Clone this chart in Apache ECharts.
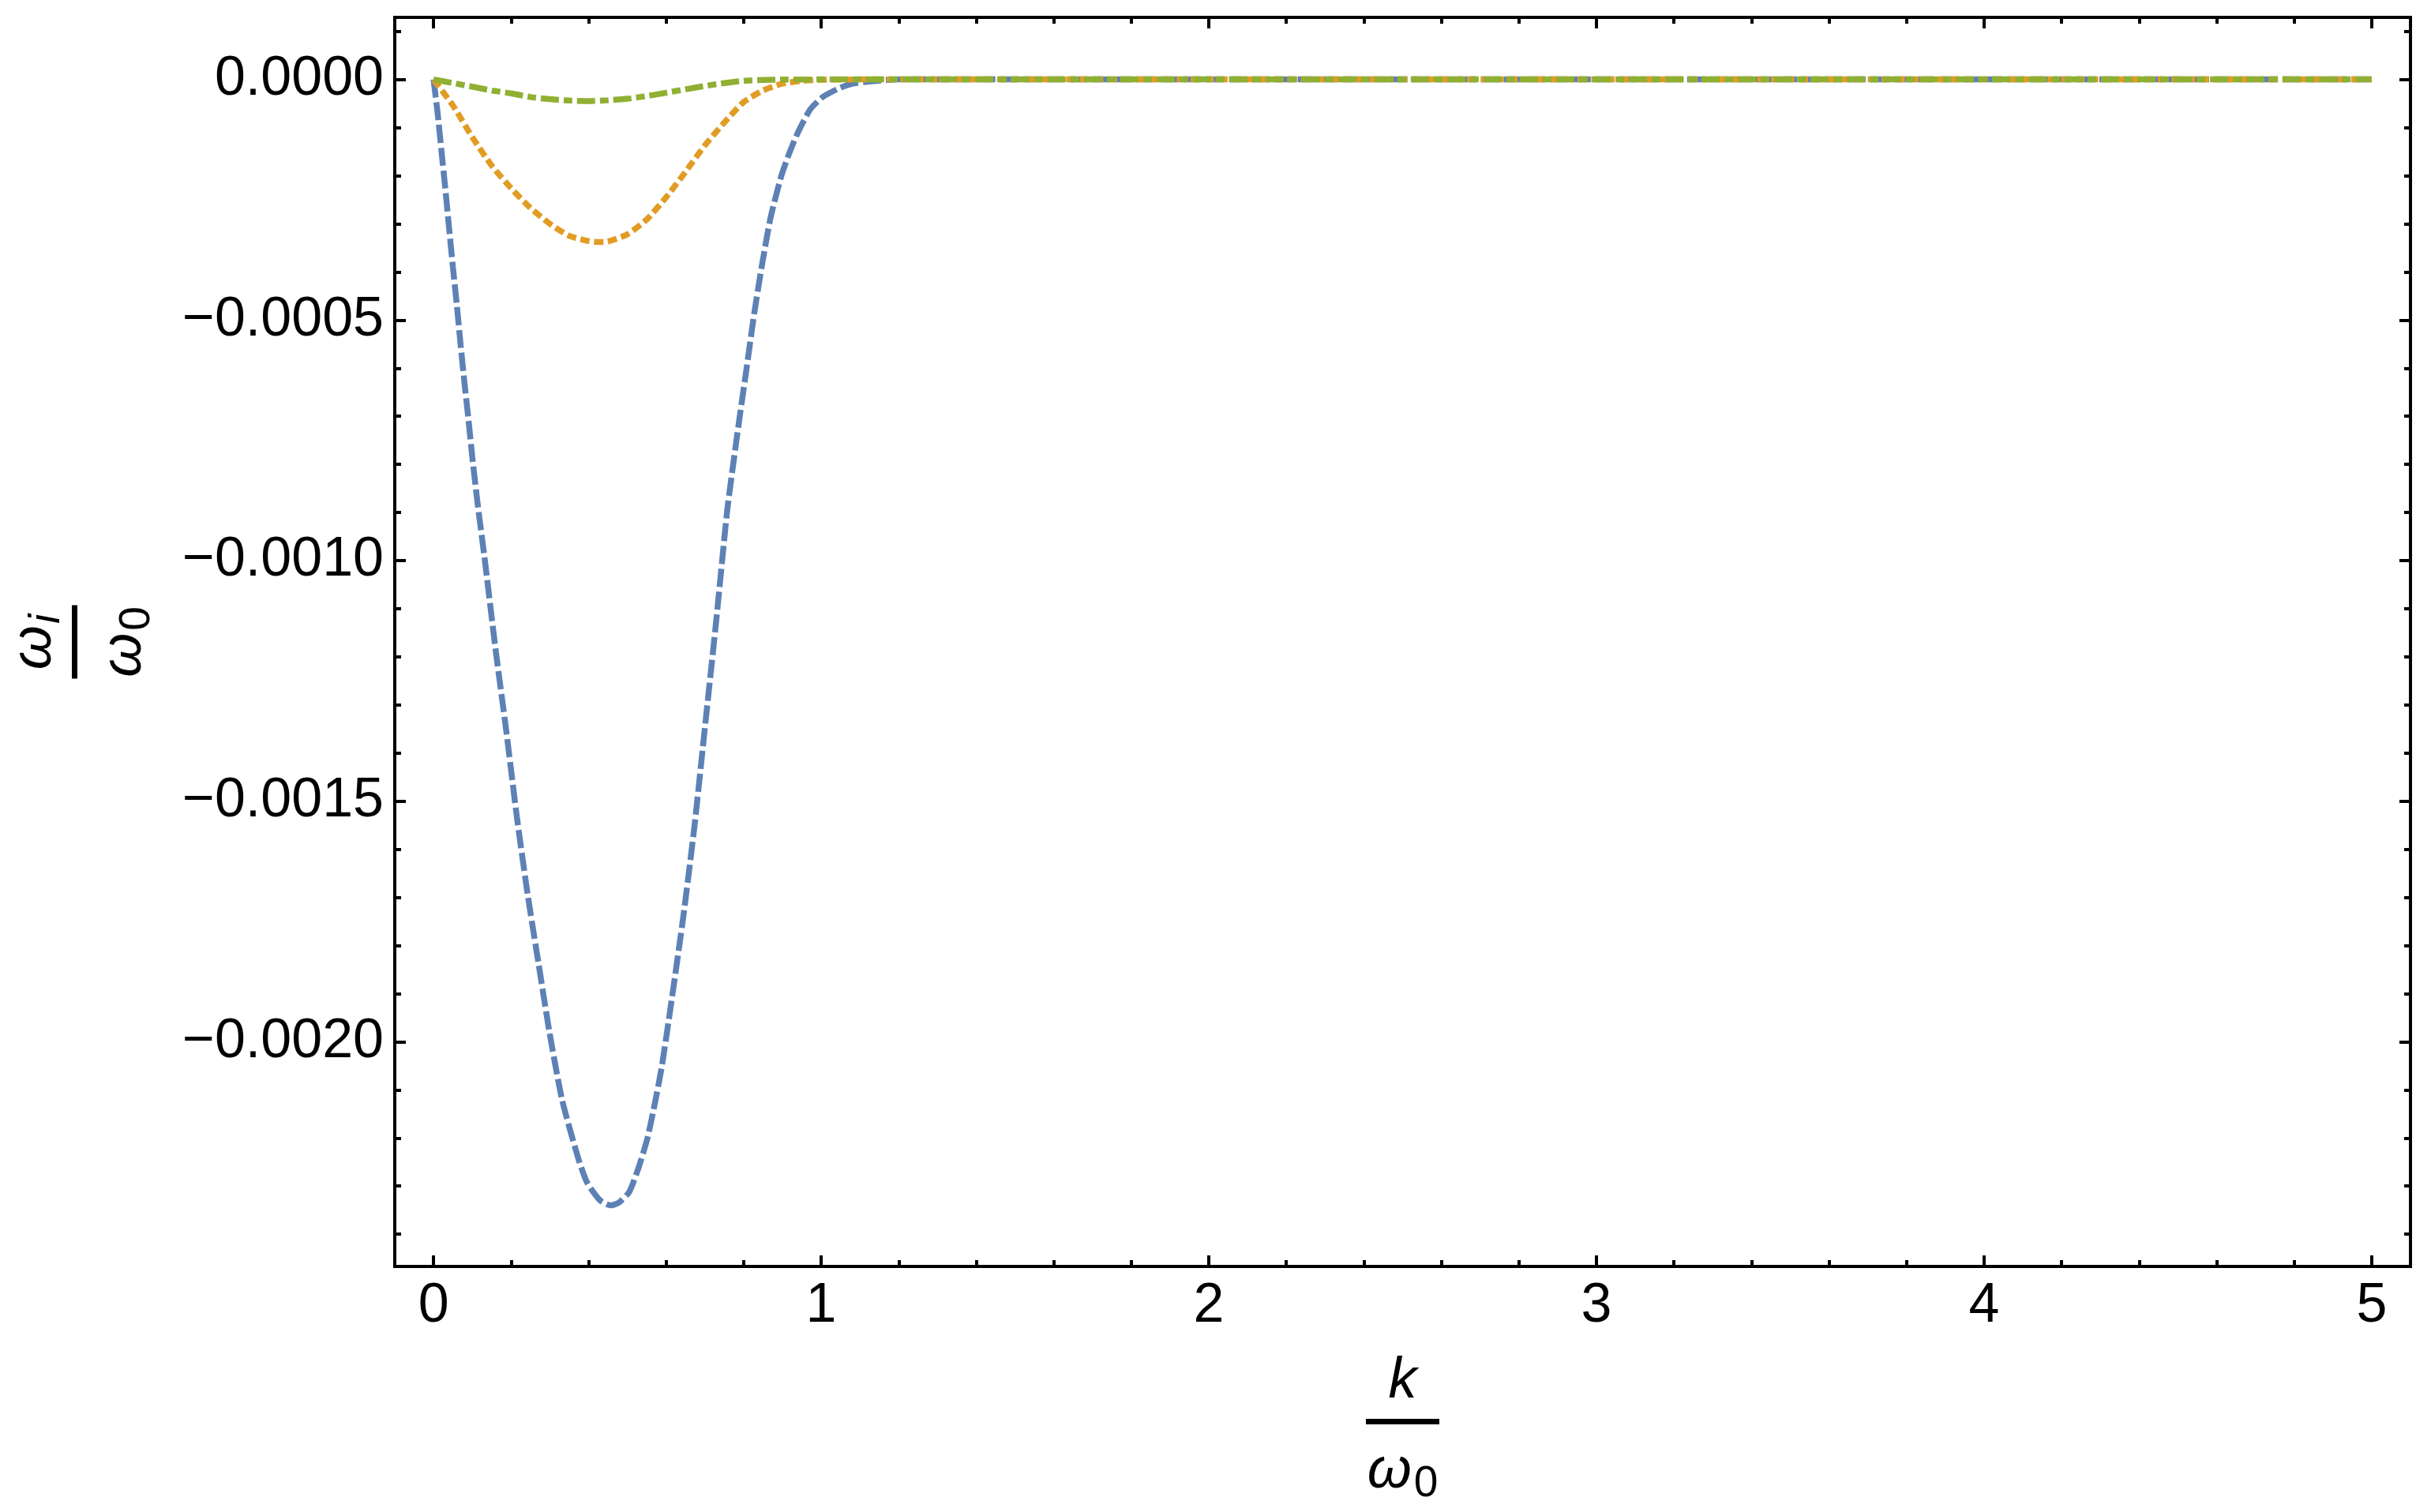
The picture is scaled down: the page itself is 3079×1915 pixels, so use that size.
<!DOCTYPE html>
<html>
<head>
<meta charset="utf-8">
<script src="https://cdn.jsdelivr.net/npm/echarts@6/dist/echarts.min.js"></script>
<style>
  html, body { margin: 0; padding: 0; background: #fff; }
  #main { width: 3079px; height: 1915px; }
</style>
</head>
<body>
<div id="main"></div>
<script>
// blue, dashed
var kBlue = [0, 0.01, 0.02, 0.03, 0.04, 0.05, 0.06, 0.07, 0.08, 0.09, 0.10, 0.115, 0.131, 0.159, 0.187,
  0.215, 0.243, 0.271, 0.299, 0.332, 0.374, 0.397, 0.43, 0.456, 0.477, 0.505, 0.528, 0.551, 0.570,
  0.589, 0.617, 0.645, 0.673, 0.701, 0.729, 0.757, 0.771, 0.790, 0.808, 0.827, 0.846, 0.869, 0.897,
  0.916, 0.939, 0.972, 1.005, 1.047, 1.08, 1.128, 1.2, 5];
var wBlue = [0, -0.000066, -0.000145, -0.000224, -0.000308, -0.000390, -0.000468, -0.000553, -0.000632,
  -0.000706, -0.000785, -0.000890, -0.000990, -0.001178, -0.001350, -0.001533, -0.001695, -0.001838,
  -0.001980, -0.002122, -0.002244, -0.002294, -0.002330, -0.002340, -0.002335, -0.002312, -0.002264,
  -0.002203, -0.002132, -0.002051, -0.001898, -0.001736, -0.001553, -0.001340, -0.001127, -0.000900,
  -0.000812, -0.000700, -0.000598, -0.000488, -0.000392, -0.000289, -0.000201, -0.000157, -0.000112,
  -0.000062, -0.000036, -0.000018, -0.000009, -0.000004, 0, 0];

// orange, dotted
var kOrange = [0, 0.05, 0.1, 0.15, 0.2, 0.25, 0.3, 0.35, 0.4, 0.43, 0.45, 0.5, 0.55, 0.6, 0.65, 0.7,
  0.75, 0.8, 0.85, 0.9, 0.95, 1.0, 1.1, 5];
var wOrange = [0, -0.000054, -0.000120, -0.000179, -0.000226, -0.000267, -0.000300, -0.000325,
  -0.000336, -0.000338, -0.000337, -0.000322, -0.000291, -0.000245, -0.000192, -0.000137, -0.0000896,
  -0.000047, -0.0000228, -0.0000088, -0.0000029, -0.0000007, 0, 0];

// green, dot-dashed
var kGreen = [0, 0.05, 0.1, 0.15, 0.2, 0.25, 0.3, 0.35, 0.4, 0.45, 0.5, 0.55, 0.6, 0.65, 0.7, 0.75,
  0.8, 0.85, 0.9, 1.0, 5];
var wGreen = [0, -0.0000075, -0.000015, -0.000023, -0.000029, -0.0000365, -0.000041, -0.0000438,
  -0.0000448, -0.0000432, -0.00004, -0.0000345, -0.0000277, -0.0000205, -0.0000136, -0.0000075,
  -0.000003, -0.000001, -0.0000003, 0, 0];

var xMajor = [0, 1, 2, 3, 4, 5];
var xMinor = [0.2, 0.4, 0.6, 0.8, 1.2, 1.4, 1.6, 1.8, 2.2, 2.4, 2.6, 2.8, 3.2, 3.4, 3.6, 3.8,
  4.2, 4.4, 4.6, 4.8];
var yMajor = [0, -0.0005, -0.001, -0.0015, -0.002];
var yMinor = [0.0001, -0.0001, -0.0002, -0.0003, -0.0004, -0.0006, -0.0007, -0.0008, -0.0009,
  -0.0011, -0.0012, -0.0013, -0.0014, -0.0016, -0.0017, -0.0018, -0.0019, -0.0021, -0.0022,
  -0.0023, -0.0024];

var FONT = '"Liberation Sans", Arial, sans-serif';
var X_MIN = -0.1, X_MAX = 5.1;
var Y_MIN = -0.002467, Y_MAX = 0.000129;

function pairs(xs, ys) {
  return xs.map(function (x, i) { return [x, ys[i]]; });
}

var fracRich = {
  n: { fontFamily: FONT, fontStyle: 'italic', fontSize: 72, lineHeight: 94, color: '#000' },
  ni: { fontFamily: FONT, fontStyle: 'italic', fontSize: 55, padding: [31, 0, 0, 2], color: '#000' },
  bar: { fontSize: 1, width: 93, height: 7, lineHeight: 7, backgroundColor: '#000' },
  d: { fontFamily: FONT, fontStyle: 'italic', fontSize: 72, lineHeight: 120, color: '#000' },
  d0: { fontFamily: FONT, fontSize: 55, padding: [31, 0, 0, 3], color: '#000' }
};

function tickAxis(pos, min, max, values, len, line) {
  return {
    type: 'value', position: pos, min: min, max: max,
    axisLine: { show: !!line, onZero: false, lineStyle: { color: '#000', width: 4, cap: 'square' } },
    splitLine: { show: false },
    axisTick: { show: true, inside: true, length: len, customValues: values,
      lineStyle: { color: '#000', width: 4 } },
    axisLabel: { show: false }
  };
}

var xMain = tickAxis('bottom', X_MIN, X_MAX, xMajor, 14, true);
xMain.axisLabel = {
  show: true, customValues: xMajor, margin: 16, color: '#000',
  fontFamily: FONT, fontSize: 70
};
xMain.name = '{n|k}\n{bar| }\n{d|ω}{d0|0}';
xMain.nameLocation = 'middle';
xMain.nameGap = 99;
xMain.nameMoveOverlap = false;
xMain.nameTextStyle = { rich: fracRich };

var yMain = tickAxis('left', Y_MIN, Y_MAX, yMajor, 14, true);
yMain.axisLabel = {
  show: true, customValues: yMajor, margin: 14, color: '#000',
  fontFamily: FONT, fontSize: 70,
  formatter: function (v) {
    return v === 0 ? '0.0000' : (v < 0 ? '\u2212' : '') + Math.abs(v).toFixed(4);
  }
};
yMain.name = '{n|ω}{ni|i}\n{bar| }\n{d|ω}{d0|0}';
yMain.nameLocation = 'middle';
yMain.nameRotate = 90;
yMain.nameGap = 282;
yMain.nameMoveOverlap = false;
yMain.nameTextStyle = { rich: fracRich };

var option = {
  animation: false,
  backgroundColor: '#fff',
  grid: {
    left: 493, top: 22, right: 26, bottom: 311,
    show: false
  },
  xAxis: [
    xMain,
    tickAxis('bottom', X_MIN, X_MAX, xMinor, 8),
    tickAxis('top', X_MIN, X_MAX, xMajor, 14, true),
    tickAxis('top', X_MIN, X_MAX, xMinor, 8)
  ],
  yAxis: [
    yMain,
    tickAxis('left', Y_MIN, Y_MAX, yMinor, 8),
    tickAxis('right', Y_MIN, Y_MAX, yMajor, 14, true),
    tickAxis('right', Y_MIN, Y_MAX, yMinor, 8)
  ],
  series: [
    {
      type: 'line', data: pairs(kBlue, wBlue), showSymbol: false, symbol: 'none', smooth: 0.2,
      lineStyle: { color: '#5E81B5', width: 7.5, type: [23, 6], cap: 'butt' }
    },
    {
      type: 'line', data: pairs(kOrange, wOrange), showSymbol: false, symbol: 'none', smooth: 0.2,
      lineStyle: { color: '#E19C24', width: 7.5, type: [12, 5.5], cap: 'butt' }
    },
    {
      type: 'line', data: pairs(kGreen, wGreen), showSymbol: false, symbol: 'none', smooth: 0.2,
      lineStyle: { color: '#8FB032', width: 7.5, type: [23, 6, 11, 6], cap: 'butt' }
    }
  ]
};

var chart = echarts.init(document.getElementById('main'));
chart.setOption(option);
</script>
</body>
</html>
